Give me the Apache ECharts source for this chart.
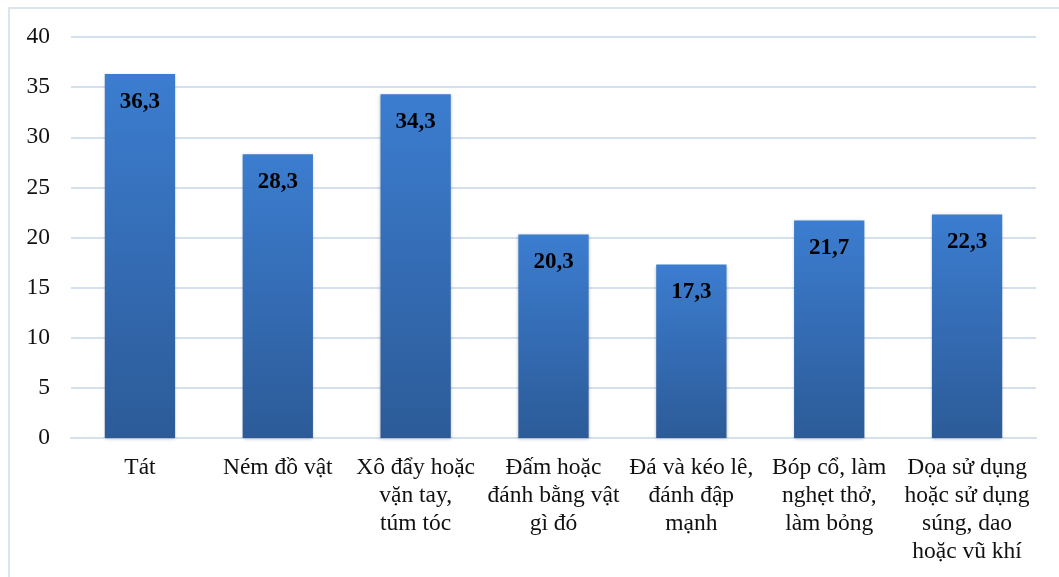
<!DOCTYPE html>
<html>
<head>
<meta charset="utf-8">
<script src="https://cdn.jsdelivr.net/npm/echarts@6/dist/echarts.min.js"></script>
<style>
html,body{margin:0;padding:0;background:#fff;}
#frame{position:absolute;left:8px;top:7px;width:1100px;height:600px;border-top:2px solid #dbe5f1;border-left:2px solid #dbe5f1;}
#chart{position:absolute;left:0;top:0;width:1059px;height:577px;}
</style>
</head>
<body>
<div id="frame"></div>
<div id="chart"></div>
<script>
var categories = ["Tát", "Ném đồ vật", "Xô đẩy hoặc\nvặn tay,\ntúm tóc", "Đấm hoặc\nđánh bằng vật\ngì đó", "Đá và kéo lê,\nđánh đập\nmạnh", "Bóp cổ, làm\nnghẹt thở,\nlàm bỏng", "Dọa sử dụng\nhoặc sử dụng\nsúng, dao\nhoặc vũ khí"];
var values = [36.3, 28.3, 34.3, 20.3, 17.3, 21.7, 22.3];

var chart = echarts.init(document.getElementById('chart'));
var font = '"Liberation Serif", "DejaVu Serif", serif';
chart.setOption({
  animation: false,
  grid: {left: 71, right: 23, top: 37, bottom: 139},
  xAxis: {
    type: 'category',
    data: categories,
    axisLine: {show: true, lineStyle: {color: '#d5e0ee', width: 2}},
    axisTick: {show: false},
    axisLabel: {interval: 0, color: '#111', fontFamily: font, fontSize: 23.5, lineHeight: 28, margin: 16}
  },
  yAxis: {
    type: 'value',
    min: 0, max: 40, interval: 5,
    axisLine: {show: false},
    axisTick: {show: false},
    splitLine: {lineStyle: {color: '#d5e0ee', width: 2}},
    axisLabel: {color: '#111', fontFamily: font, fontSize: 23.5, margin: 21}
  },
  series: [{
    type: 'bar',
    data: values,
    barWidth: '51%',
    itemStyle: {
      color: new echarts.graphic.LinearGradient(0, 0, 0, 1, [
        {offset: 0, color: '#3c7dd0'},
        {offset: 1, color: '#2c5b98'}
      ]),
      shadowColor: 'rgba(0,0,0,0.25)',
      shadowBlur: 3,
      shadowOffsetY: 1
    },
    label: {
      show: true,
      position: 'insideTop',
      distance: 16,
      color: '#000',
      fontFamily: font,
      fontWeight: 'bold',
      fontSize: 23,
      formatter: function (p) { return String(p.value).replace('.', ','); }
    }
  }]
});
</script>
</body>
</html>
